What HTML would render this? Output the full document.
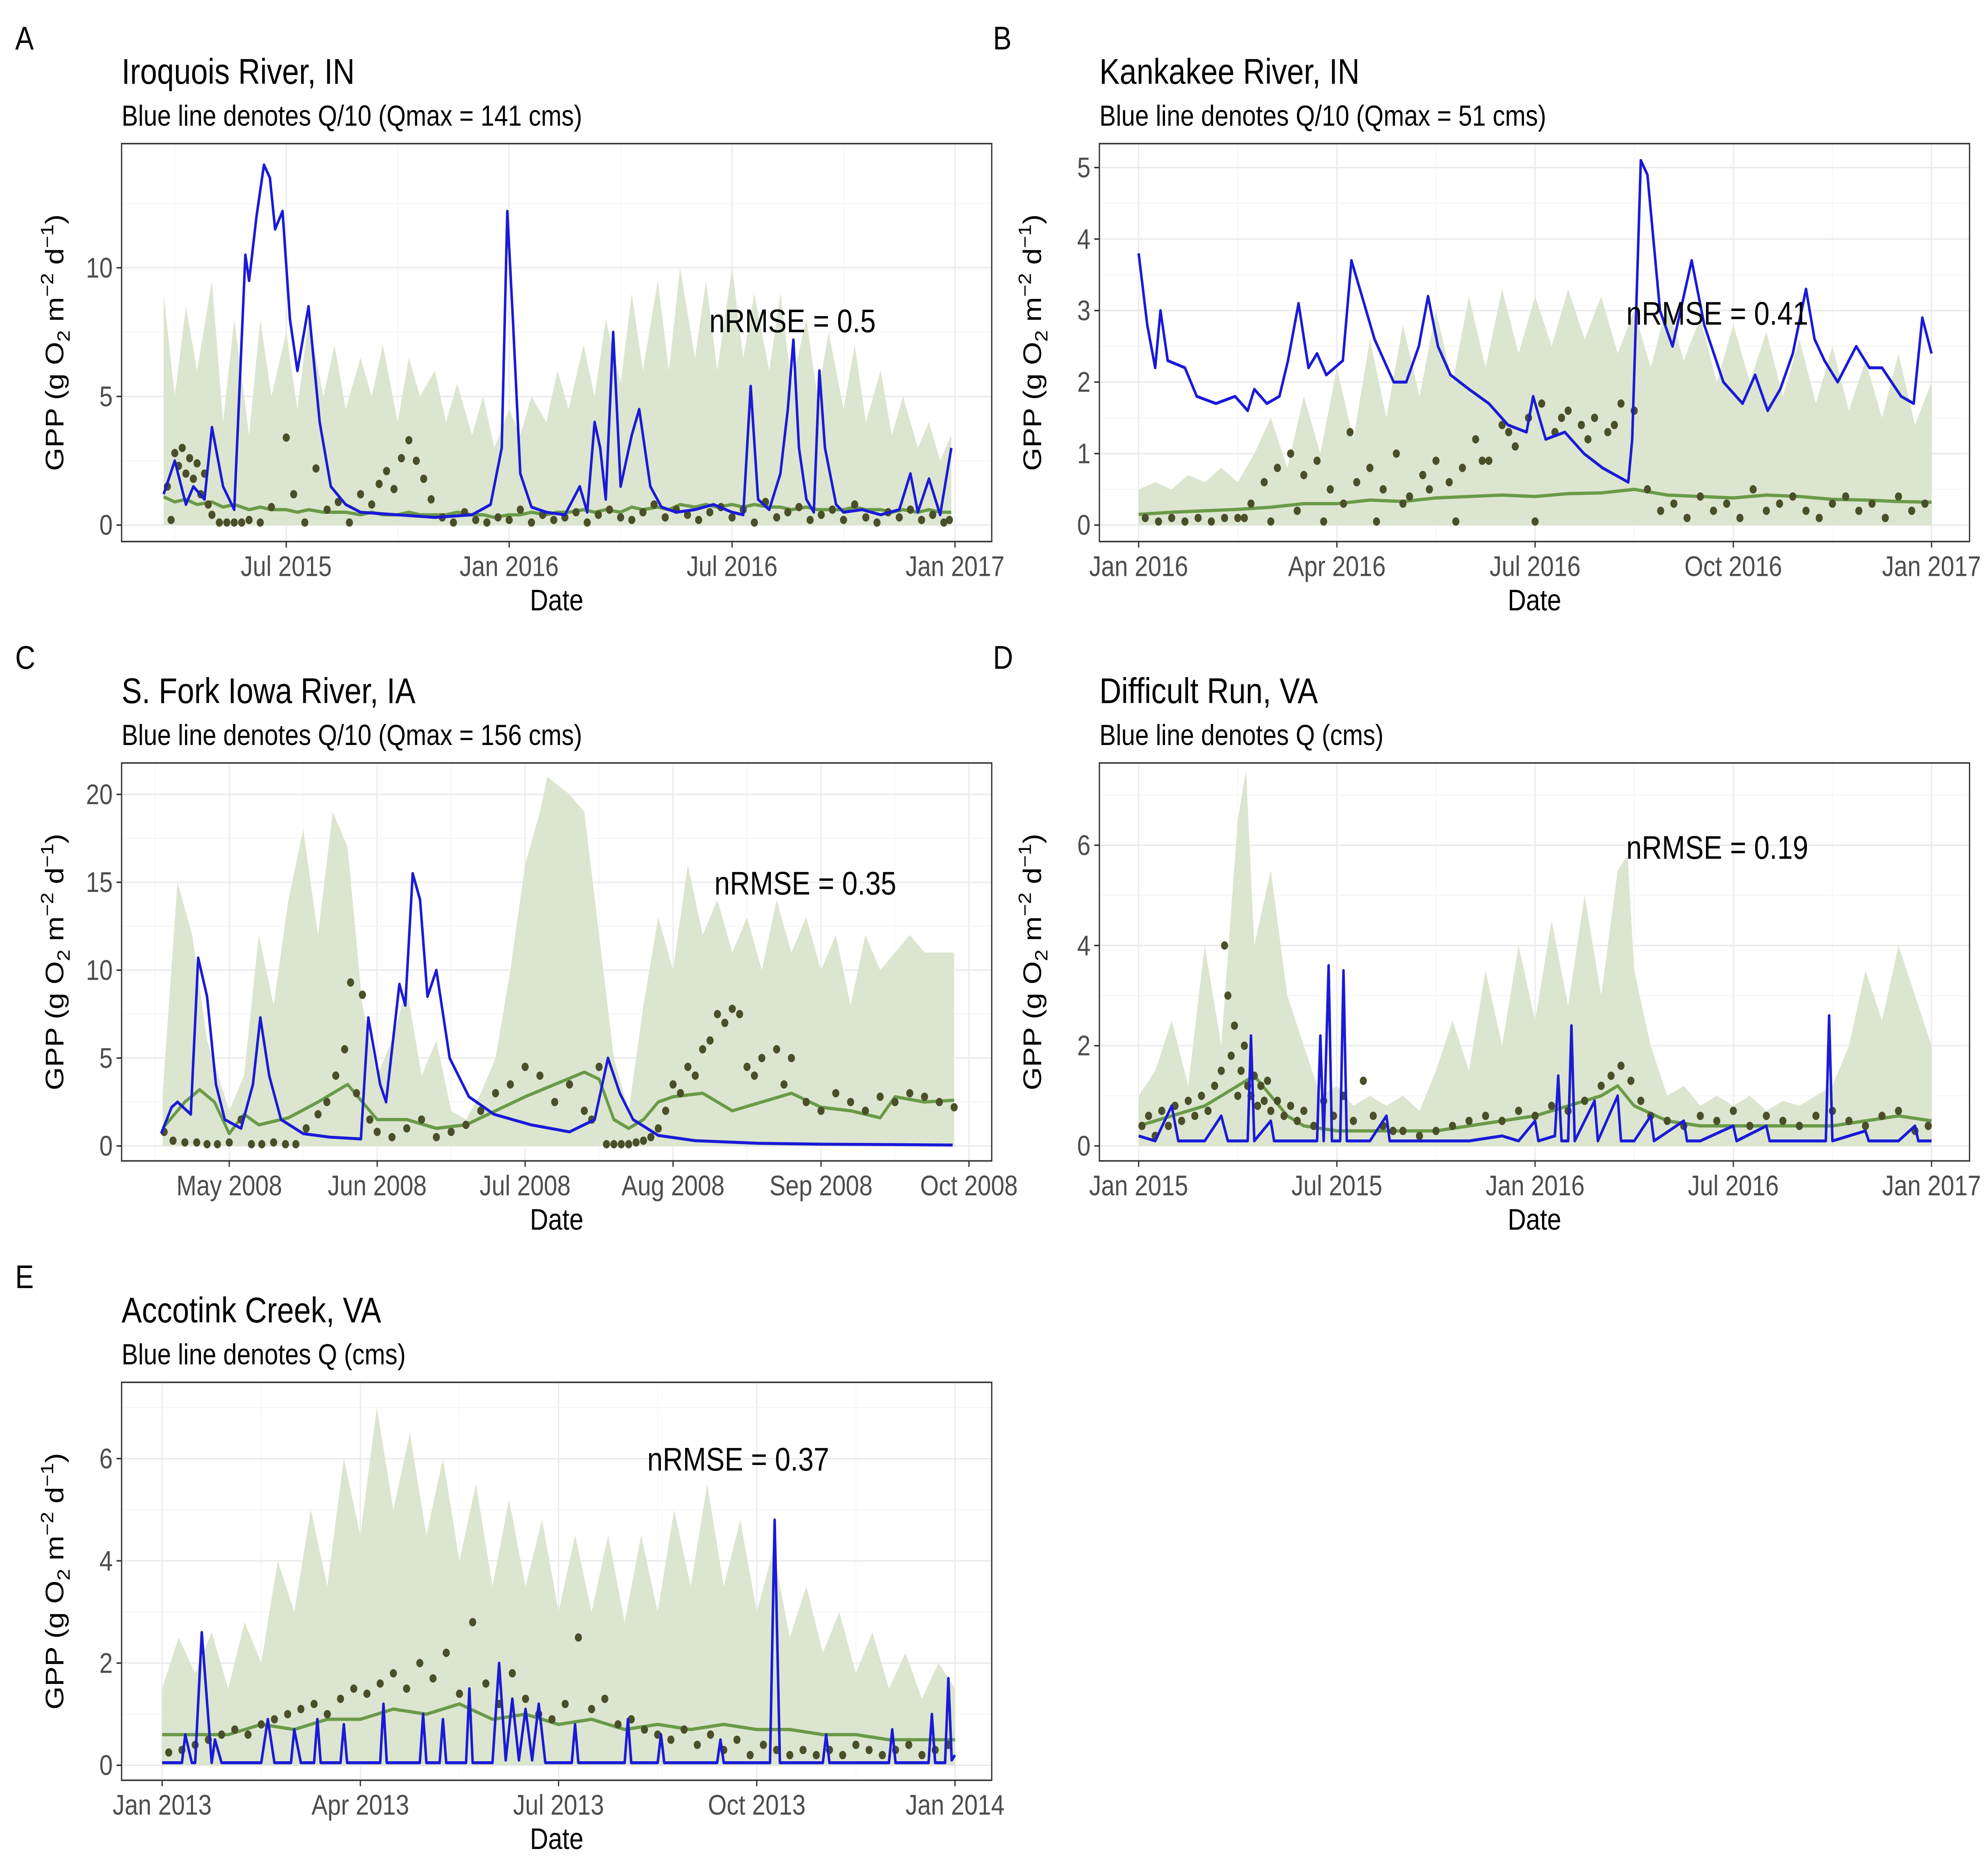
<!DOCTYPE html>
<html><head><meta charset="utf-8"><style>
html,body{margin:0;padding:0;background:#fff;width:100%;height:100%;overflow:hidden}
svg{display:block;width:100vw;height:100vh}
text{font-family:"Liberation Sans",Arial,sans-serif}
</style></head><body>
<svg id="fig" xmlns="http://www.w3.org/2000/svg" viewBox="0 0 1568 1254" preserveAspectRatio="none"></svg>
<script>
// ===== Panel A: months since Jan 2015 =====
const aEnvX=[2.7,3.0,3.3,3.6,4.0,4.3,4.6,5.0,5.3,5.6,6.0,6.3,6.6,7.0,7.3,7.6,8.0,8.3,8.6,9.0,9.3,9.6,10,10.3,10.6,11,11.3,11.6,12,12.3,12.6,13,13.3,13.6,14,14.3,14.6,15,15.3,15.6,16,16.3,16.6,17,17.3,17.6,18,18.3,18.6,19,19.3,19.6,20,20.3,20.6,21,21.3,21.6,22,22.3,22.6,23,23.3,23.6,23.9];
const aEnvY=[9,5,8.5,6,9.5,4,8,3.5,8,5,7.5,4.5,8,5,7,4.5,6.5,5,7,4,6.5,5,6,4,5.5,3.5,5,3,4.5,3.5,5,4,6,4.5,7,5,8,5.5,9,6,9.5,6,10,6.5,9.5,6,10,6.5,9,6,9,5.5,8,5,7.5,4.5,7,4,6,3.5,5,3,4,2.5,3.5];
const aGreenY=[1.1,0.9,1.0,0.8,0.9,0.7,0.8,0.6,0.7,0.6,0.6,0.5,0.6,0.5,0.5,0.5,0.4,0.5,0.4,0.4,0.5,0.4,0.4,0.4,0.5,0.4,0.4,0.3,0.4,0.4,0.5,0.4,0.5,0.5,0.6,0.5,0.6,0.5,0.7,0.6,0.7,0.6,0.8,0.7,0.8,0.7,0.8,0.7,0.8,0.7,0.7,0.6,0.7,0.6,0.6,0.6,0.7,0.6,0.6,0.5,0.6,0.5,0.6,0.5,0.5];
const aBlueX=[2.7,3.0,3.3,3.5,3.8,4.0,4.3,4.6,4.9,5.0,5.2,5.4,5.56,5.7,5.9,6.1,6.3,6.6,6.9,7.2,7.6,8,9,10,11,11.5,11.8,11.95,12.1,12.3,12.6,13,13.5,13.9,14.1,14.3,14.45,14.6,14.8,15,15.3,15.5,15.8,16.1,16.5,17,17.5,18,18.3,18.5,18.7,19,19.3,19.5,19.65,19.8,20,20.2,20.35,20.5,20.8,21,21.5,22,22.5,22.8,23,23.3,23.6,23.9];
const aBlueY=[1.2,2.5,0.8,1.5,1.0,3.8,1.5,0.6,10.5,9.5,12,14,13.5,11.5,12.2,8,6,8.5,4,1.5,0.8,0.5,0.4,0.3,0.4,0.8,3,12.2,8,2,0.7,0.5,0.4,1.5,0.5,4,3,1,7.5,1.5,3.5,4.5,1.5,0.7,0.5,0.6,0.8,0.5,0.4,5.4,1,0.6,2,4.5,7.2,3,1,0.5,6,3,0.8,0.5,0.6,0.4,0.6,2,0.5,1.8,0.4,3];
const aPtX=[2.8,2.9,3.0,3.1,3.2,3.3,3.4,3.5,3.6,3.7,3.8,3.9,4.0,4.2,4.4,4.6,4.8,5.0,5.3,5.6,6.0,6.2,6.5,6.8,7.1,7.4,7.7,8.0,8.3,8.5,8.7,8.9,9.1,9.3,9.5,9.7,9.9,10.2,10.5,10.8,11.1,11.4,11.7,12.0,12.3,12.6,12.9,13.2,13.5,13.8,14.1,14.4,14.7,15.0,15.3,15.6,15.9,16.2,16.5,16.8,17.1,17.4,17.7,18.0,18.3,18.6,18.9,19.2,19.5,19.8,20.1,20.4,20.7,21.0,21.3,21.6,21.9,22.2,22.5,22.8,23.1,23.4,23.7,23.85];
const aPtY=[1.5,0.2,2.8,2.3,3.0,2.0,2.6,1.8,2.4,1.2,2.0,0.8,0.4,0.1,0.1,0.1,0.1,0.2,0.1,0.7,3.4,1.2,0.1,2.2,0.6,0.9,0.1,1.2,0.8,1.6,2.1,1.4,2.6,3.3,2.5,1.8,1.0,0.3,0.1,0.5,0.2,0.1,0.3,0.2,0.6,0.1,0.4,0.2,0.3,0.5,0.1,0.4,0.6,0.3,0.2,0.5,0.8,0.3,0.6,0.4,0.2,0.5,0.7,0.3,0.6,0.1,0.9,0.3,0.5,0.7,0.2,0.4,0.6,0.2,0.8,0.3,0.1,0.5,0.3,0.6,0.2,0.4,0.1,0.2];
const aTickVals=[0,5,10];
const aXTicks=[6,12,18,24];
const aXLabels=["Jul 2015","Jan 2016","Jul 2016","Jan 2017"];

// ===== Panel B: months since Jan 2016 =====
const bEnvX=[0,0.25,0.5,0.75,1,1.25,1.5,1.75,2,2.25,2.5,2.75,3,3.25,3.5,3.75,4,4.25,4.5,4.75,5,5.25,5.5,5.75,6,6.25,6.5,6.75,7,7.25,7.5,7.75,8,8.25,8.5,8.75,9,9.25,9.5,9.75,10,10.25,10.5,10.75,11,11.25,11.5,11.75,12];
const bEnvY=[0.5,0.6,0.5,0.7,0.6,0.8,0.6,1.0,1.5,0.8,1.8,1.0,2.2,1.2,2.6,1.5,2.8,1.8,3.0,2.0,3.2,2.2,3.3,2.4,3.2,2.5,3.3,2.6,3.2,2.4,3.0,2.2,3.1,2.3,2.9,2.0,2.8,2.0,2.7,1.8,2.6,1.7,2.5,1.6,2.3,1.5,2.4,1.4,2.0];
const bGreenX=[0,0.5,1,1.5,2,2.5,3,3.5,4,4.5,5,5.5,6,6.5,7,7.5,8,8.5,9,9.5,10,10.5,11,11.5,12];
const bGreenY=[0.15,0.18,0.2,0.22,0.25,0.3,0.3,0.35,0.33,0.38,0.4,0.42,0.4,0.44,0.45,0.5,0.42,0.4,0.38,0.42,0.4,0.36,0.35,0.33,0.32];
const bBlueX=[0,0.13,0.25,0.33,0.44,0.7,0.88,1.17,1.46,1.65,1.75,1.94,2.13,2.26,2.42,2.57,2.7,2.84,3.09,3.22,3.38,3.57,3.86,4.05,4.24,4.38,4.53,4.72,5.0,5.3,5.59,5.87,5.97,6.16,6.45,6.74,7.02,7.41,7.47,7.6,7.7,7.89,8.08,8.37,8.56,8.85,9.14,9.33,9.52,9.71,9.9,10.1,10.23,10.38,10.58,10.86,11.06,11.25,11.54,11.73,11.86,12.0];
const bBlueY=[3.8,2.8,2.2,3.0,2.3,2.2,1.8,1.7,1.8,1.6,1.9,1.7,1.8,2.3,3.1,2.2,2.4,2.1,2.3,3.7,3.2,2.6,2.0,2.0,2.5,3.2,2.5,2.1,1.9,1.7,1.4,1.3,1.8,1.2,1.3,1.0,0.8,0.6,1.2,5.1,4.9,3.0,2.5,3.7,2.8,2.0,1.7,2.1,1.6,1.9,2.4,3.3,2.6,2.3,2.0,2.5,2.2,2.2,1.8,1.7,2.9,2.4];
const bPtX=[0.1,0.3,0.5,0.7,0.9,1.1,1.3,1.5,1.7,1.9,2.1,2.3,2.5,2.7,2.9,3.1,3.3,3.5,3.7,3.9,4.1,4.3,4.5,4.7,4.9,5.1,5.3,5.5,5.7,5.9,6.1,6.3,6.5,6.7,6.9,7.1,7.3,7.5,7.7,7.9,8.1,8.3,8.5,8.7,8.9,9.1,9.3,9.5,9.7,9.9,10.1,10.3,10.5,10.7,10.9,11.1,11.3,11.5,11.7,11.9,1.6,2.0,2.4,2.8,3.2,3.6,4.0,4.4,4.8,5.2,5.6,6.0,6.4,6.8,7.2];
const bPtY=[0.1,0.05,0.1,0.05,0.1,0.05,0.1,0.1,0.3,0.6,0.8,1.0,0.7,0.9,0.5,0.3,0.6,0.8,0.5,1.0,0.4,0.7,0.9,0.6,0.8,1.2,0.9,1.4,1.1,1.5,1.7,1.3,1.6,1.4,1.5,1.3,1.7,1.6,0.5,0.2,0.3,0.1,0.4,0.2,0.3,0.1,0.5,0.2,0.3,0.4,0.2,0.1,0.3,0.4,0.2,0.3,0.1,0.4,0.2,0.3,0.1,0.05,0.2,0.05,1.3,0.05,0.3,0.5,0.05,0.9,1.3,0.05,1.5,1.2,1.4];
const bTickVals=[0,1,2,3,4,5];
const bXTicks=[0,3,6,9,12];
const bXLabels=["Jan 2016","Apr 2016","Jul 2016","Oct 2016","Jan 2017"];

// ===== Panel C: months since Apr 2008 =====
const cEnvX=[0.55,0.65,0.75,0.85,1.0,1.1,1.2,1.3,1.4,1.5,1.6,1.7,1.8,1.9,2.0,2.1,2.2,2.3,2.4,2.5,2.6,2.7,2.8,2.9,3.0,3.1,3.15,3.3,3.4,3.5,3.6,3.7,3.8,3.9,4.0,4.1,4.2,4.3,4.4,4.5,4.6,4.7,4.8,4.9,5.0,5.1,5.2,5.3,5.4,5.5,5.6,5.7,5.8,5.9];
const cEnvY=[3,15,12,6,2,4,12,8,14,18,12,19,17,8,4,6,9,4,6,2,1.5,3,5,10,16,19,21,20,19,12,5,2,8,13,10,16,12,14,11,13,10,14,11,13,10,12,8,12,10,11,12,11,11,11];
const cGreenX=[0.55,0.7,0.8,0.9,1.0,1.1,1.2,1.4,1.6,1.8,2.0,2.2,2.4,2.6,2.8,3.0,3.2,3.4,3.5,3.6,3.7,3.8,3.9,4.0,4.2,4.4,4.6,4.8,5.0,5.2,5.4,5.5,5.7,5.9];
const cGreenY=[1.0,2.5,3.2,2.5,0.7,1.8,1.2,1.6,2.5,3.5,1.5,1.5,1.0,1.2,2.0,2.8,3.5,4.2,3.8,1.5,1.0,1.5,2.5,2.8,3.0,2.0,2.5,3.0,2.2,2.0,1.6,2.8,2.5,2.6];
const cBlueX=[0.54,0.61,0.65,0.74,0.79,0.85,0.91,0.97,1.08,1.16,1.21,1.27,1.35,1.50,1.68,1.89,1.94,2.02,2.06,2.15,2.19,2.24,2.29,2.34,2.40,2.49,2.62,2.79,3.04,3.30,3.47,3.56,3.64,3.73,3.90,4.15,4.58,5.01,5.44,5.89];
const cBlueY=[0.7,2.2,2.5,1.8,10.7,8.5,3.5,1.5,1.0,3.5,7.3,4,1.5,0.7,0.5,0.4,7.3,3.5,2.5,9.2,8,15.5,14,8.5,10,5,2.8,1.8,1.2,0.8,1.5,5.0,3,1.5,0.6,0.3,0.15,0.1,0.08,0.05];
const cPtX=[0.56,0.62,0.7,0.78,0.85,0.92,1.0,1.08,1.15,1.22,1.3,1.38,1.45,1.52,1.6,1.66,1.72,1.78,1.82,1.86,1.9,1.95,2.0,2.1,2.2,2.3,2.4,2.5,2.6,2.7,2.8,2.9,3.0,3.1,3.2,3.3,3.4,3.45,3.5,3.55,3.6,3.65,3.7,3.75,3.8,3.85,3.9,3.95,4.0,4.05,4.1,4.15,4.2,4.25,4.3,4.35,4.4,4.45,4.5,4.55,4.6,4.7,4.75,4.8,4.9,5.0,5.1,5.2,5.3,5.4,5.5,5.6,5.7,5.8,5.9];
const cPtY=[0.8,0.3,0.2,0.2,0.1,0.1,0.2,1.5,0.1,0.1,0.2,0.1,0.1,1.0,1.8,2.5,4.0,5.5,9.3,3.0,8.6,1.5,0.8,0.5,1.0,1.5,0.5,0.8,1.2,2.0,3.0,3.5,4.5,4.0,2.5,3.5,2.0,1.5,4.5,0.1,0.1,0.1,0.1,0.2,0.3,0.5,1.0,2.0,3.5,3.0,4.5,4.0,5.5,6.0,7.5,7.0,7.8,7.5,4.5,4.0,5.0,5.5,3.5,5.0,2.5,2.0,3.0,2.5,2.0,2.8,2.5,3.0,2.8,2.5,2.2];
const cTickVals=[0,5,10,15,20];
const cXTicks=[1,2,3,4,5,6];
const cXLabels=["May 2008","Jun 2008","Jul 2008","Aug 2008","Sep 2008","Oct 2008"];

// ===== Panel D: months since Jan 2015 =====
const dEnvX=[0,0.5,1,1.5,2,2.5,3,3.25,3.5,4,4.5,5,5.5,6,6.5,7,7.5,8,8.5,9,9.5,10,10.5,11,11.5,12,12.5,13,13.5,14,14.5,14.8,15,15.5,16,16.5,17,17.5,18,18.5,19,19.5,20,20.5,21,21.5,22,22.5,23,23.5,24];
const dEnvY=[1.0,1.5,2.5,1.2,4.0,2.0,6.5,7.5,4,5.5,3,2,1,1.2,0.8,1.0,0.8,1.0,0.7,1.5,2.5,1.5,3.5,2.0,4,2.5,4.5,2.8,5.0,3,5.5,5.8,3.5,2,1,1.2,0.8,1,0.8,1.0,0.7,0.9,0.8,1,1.2,2,3.5,2.5,4,3,2];
const dGreenX=[0,1,2,3,3.5,4,4.5,5,6,7,8,9,10,11,12,13,14,14.5,15,16,17,18,19,20,21,22,23,24];
const dGreenY=[0.4,0.6,0.8,1.2,1.4,1.0,0.6,0.4,0.3,0.3,0.3,0.3,0.4,0.5,0.6,0.8,1.0,1.2,0.8,0.5,0.4,0.4,0.4,0.4,0.4,0.5,0.6,0.5];
const dBlueX=[0,0.5,1,1.2,2,2.5,2.7,3.3,3.4,3.5,4,4.1,5,5.4,5.5,5.6,5.75,5.85,6.1,6.2,6.3,7,7.5,7.6,9,10,11,11.5,12,12.1,12.6,12.7,12.8,13.0,13.1,13.2,13.8,13.9,14.5,14.6,15,15.5,15.6,16.5,16.6,17,18,18.1,19,19.1,20.8,20.9,21.0,22,22.1,23,23.5,23.6,24];
const dBlueY=[0.2,0.1,0.8,0.1,0.1,0.6,0.1,0.1,2.2,0.1,0.5,0.1,0.1,0.1,2.2,0.1,3.6,0.1,0.1,3.5,0.1,0.1,0.6,0.1,0.1,0.1,0.2,0.1,0.5,0.1,0.2,1.4,0.1,0.1,2.4,0.1,0.9,0.1,1.0,0.1,0.1,0.6,0.1,0.5,0.1,0.1,0.4,0.1,0.4,0.1,0.1,2.6,0.1,0.3,0.1,0.1,0.4,0.1,0.1];
const dPtX=[0.1,0.3,0.5,0.7,0.9,1.1,1.3,1.5,1.7,1.9,2.1,2.3,2.5,2.6,2.7,2.8,2.9,3.0,3.1,3.2,3.3,3.4,3.5,3.6,3.7,3.8,3.9,4.0,4.2,4.4,4.6,4.8,5.0,5.3,5.6,5.9,6.2,6.5,6.8,7.1,7.4,7.7,8.0,8.5,9.0,9.5,10,10.5,11,11.5,12,12.5,13,13.5,14,14.3,14.6,14.9,15.2,15.5,16,16.5,17,17.5,18,18.5,19,19.5,20,20.5,21,21.5,22,22.5,23,23.5,23.9];
const dPtY=[0.4,0.6,0.2,0.7,0.4,0.8,0.5,0.9,0.6,1.0,0.7,1.2,1.5,4.0,3.0,1.8,2.4,1.0,1.5,2.0,1.2,1.0,1.4,0.8,1.2,0.9,1.3,0.7,0.9,0.6,0.8,0.5,0.7,0.4,0.9,0.6,1.0,0.5,1.3,0.6,0.4,0.3,0.3,0.2,0.3,0.4,0.5,0.6,0.5,0.7,0.6,0.8,0.7,0.9,1.2,1.4,1.6,1.3,0.9,0.6,0.5,0.4,0.6,0.5,0.7,0.4,0.6,0.5,0.4,0.6,0.7,0.5,0.4,0.6,0.7,0.3,0.4];
const dTickVals=[0,2,4,6];
const dXTicks=[0,6,12,18,24];
const dXLabels=["Jan 2015","Jul 2015","Jan 2016","Jul 2016","Jan 2017"];

// ===== Panel E: months since Jan 2013 =====
const eEnvX=[0,0.25,0.5,0.75,1,1.25,1.5,1.75,2,2.25,2.5,2.75,3,3.25,3.5,3.75,4,4.25,4.5,4.75,5,5.25,5.5,5.75,6,6.25,6.5,6.75,7,7.25,7.5,7.75,8,8.25,8.5,8.75,9,9.25,9.5,9.75,10,10.25,10.5,10.75,11,11.25,11.5,11.75,12];
const eEnvY=[1.5,2.5,1.8,2.6,1.5,2.8,2.0,4.0,3.0,5.0,3.5,6.0,4.5,7.0,5,6.5,4.5,6.0,4.0,5.5,3.5,5.2,3.5,4.8,3.0,4.5,3.0,4.5,2.8,4.5,3.0,5.0,3.5,5.5,3.5,4.8,3.0,4.2,2.5,3.5,2.2,3.0,1.8,2.6,1.5,2.2,1.3,2.0,1.5];
const eGreenX=[0,1,1.5,2,2.5,3,3.5,4,4.5,5,5.5,6,6.5,7,7.5,8,8.5,9,9.5,10,10.5,11,11.5,12];
const eGreenY=[0.6,0.6,0.8,0.7,0.9,0.9,1.1,1.0,1.2,0.9,1.0,0.8,0.9,0.7,0.8,0.7,0.8,0.7,0.7,0.6,0.6,0.5,0.5,0.5];
const eBlueX=[0,0.3,0.35,0.45,0.5,0.6,0.75,0.8,0.9,1.5,1.6,1.7,1.95,2.0,2.1,2.3,2.35,2.4,2.7,2.75,2.8,3.3,3.35,3.4,3.9,3.95,4.0,4.2,4.25,4.3,4.6,4.65,4.7,5.0,5.1,5.2,5.3,5.4,5.5,5.6,5.7,5.8,6.2,6.25,6.3,7.0,7.05,7.1,7.5,7.55,7.6,8.4,8.45,8.5,9.2,9.27,9.35,10.0,10.05,10.1,11.0,11.05,11.1,11.6,11.65,11.7,11.85,11.9,11.95,12.0];
const eBlueY=[0.05,0.05,0.6,0.05,0.05,2.6,0.05,0.5,0.05,0.05,0.9,0.05,0.05,0.7,0.05,0.05,0.9,0.05,0.05,0.8,0.05,0.05,1.2,0.05,0.05,1.0,0.05,0.05,0.9,0.05,0.05,1.5,0.05,0.05,2.0,0.1,1.3,0.1,1.1,0.1,1.2,0.05,0.05,0.8,0.05,0.05,0.9,0.05,0.05,0.6,0.05,0.05,0.5,0.05,0.05,4.8,0.05,0.05,0.6,0.05,0.05,0.7,0.05,0.05,1.0,0.05,0.05,1.7,0.1,0.2];
const ePtX=[0.1,0.3,0.5,0.7,0.9,1.1,1.3,1.5,1.7,1.9,2.1,2.3,2.5,2.7,2.9,3.1,3.3,3.5,3.7,3.9,4.1,4.3,4.5,4.7,4.9,5.1,5.3,5.5,5.7,5.9,6.1,6.3,6.5,6.7,6.9,7.1,7.3,7.5,7.7,7.9,8.1,8.3,8.5,8.7,8.9,9.1,9.3,9.5,9.7,9.9,10.1,10.3,10.5,10.7,10.9,11.1,11.3,11.5,11.7,11.9];
const ePtY=[0.25,0.3,0.4,0.5,0.6,0.7,0.6,0.8,0.9,1.0,1.1,1.2,1.0,1.3,1.5,1.4,1.6,1.8,1.5,2.0,1.7,2.2,1.4,2.8,1.6,1.2,1.8,1.3,1.0,0.9,1.2,2.5,1.1,1.3,0.8,0.9,0.7,0.6,0.5,0.7,0.4,0.6,0.3,0.5,0.2,0.4,0.3,0.2,0.3,0.2,0.3,0.2,0.4,0.3,0.2,0.3,0.4,0.2,0.3,0.4];
const eTickVals=[0,2,4,6];
const eXTicks=[0,3,6,9,12];
const eXLabels=["Jan 2013","Apr 2013","Jul 2013","Oct 2013","Jan 2014"];

const NS="http://www.w3.org/2000/svg";
const svg=document.getElementById('fig');
function mk(tag,attrs,parent){const e=document.createElementNS(NS,tag);for(const k in attrs)e.setAttribute(k,attrs[k]);(parent||svg).appendChild(e);return e;}

const panels=[
 {key:'a',letter:'A',title:'Iroquois River, IN',sub:'Blue line denotes Q/10 (Qmax = 141 cms)',L:96,R:783,T:96,B:362,
  xm0:6,xp0:226,xm1:24,xp1:754,yv0:0,yp0:351,yv1:10,yp1:179,
  envX:aEnvX,envY:aEnvY,gX:aEnvX,gY:aGreenY,blX:aBlueX,blY:aBlueY,pX:aPtX,pY:aPtY,yt:aTickVals,xt:aXTicks,xl:aXLabels,nr:'nRMSE =  0.5',nx:560,ny:222},
 {key:'b',letter:'B',title:'Kankakee River, IN',sub:'Blue line denotes Q/10 (Qmax = 51 cms)',L:868,R:1555,T:96,B:362,
  xm0:0,xp0:899,xm1:12,xp1:1525,yv0:0,yp0:351,yv1:5,yp1:112,
  envX:bEnvX,envY:bEnvY,gX:bGreenX,gY:bGreenY,blX:bBlueX,blY:bBlueY,pX:bPtX,pY:bPtY,yt:bTickVals,xt:bXTicks,xl:bXLabels,nr:'nRMSE =  0.41',nx:1284,ny:217},
 {key:'c',letter:'C',title:'S. Fork Iowa River, IA',sub:'Blue line denotes Q/10 (Qmax = 156 cms)',L:96,R:783,T:510,B:776,
  xm0:1,xp0:181,xm1:6,xp1:765,yv0:0,yp0:766,yv1:20,yp1:531,
  envX:cEnvX,envY:cEnvY,gX:cGreenX,gY:cGreenY,blX:cBlueX,blY:cBlueY,pX:cPtX,pY:cPtY,yt:cTickVals,xt:cXTicks,xl:cXLabels,nr:'nRMSE =  0.35',nx:564,ny:598},
 {key:'d',letter:'D',title:'Difficult Run, VA',sub:'Blue line denotes Q (cms)',L:868,R:1555,T:510,B:776,
  xm0:0,xp0:899,xm1:24,xp1:1525,yv0:0,yp0:766,yv1:6,yp1:565,
  envX:dEnvX,envY:dEnvY,gX:dGreenX,gY:dGreenY,blX:dBlueX,blY:dBlueY,pX:dPtX,pY:dPtY,yt:dTickVals,xt:dXTicks,xl:dXLabels,nr:'nRMSE =  0.19',nx:1284,ny:574},
 {key:'e',letter:'E',title:'Accotink Creek, VA',sub:'Blue line denotes Q (cms)',L:96,R:783,T:924,B:1190,
  xm0:0,xp0:128,xm1:12,xp1:754,yv0:0,yp0:1180,yv1:6,yp1:975,
  envX:eEnvX,envY:eEnvY,gX:eGreenX,gY:eGreenY,blX:eBlueX,blY:eBlueY,pX:ePtX,pY:ePtY,yt:eTickVals,xt:eXTicks,xl:eXLabels,nr:'nRMSE =  0.37',nx:511,ny:983}
];

panels.forEach(p=>{
 const xs=m=>p.xp0+(m-p.xm0)*(p.xp1-p.xp0)/(p.xm1-p.xm0);
 const ys=v=>p.yp0+(v-p.yv0)*(p.yp1-p.yp0)/(p.yv1-p.yv0);
 const g=mk('g',{});
 
 
 const clipId='clip-'+p.key;
 const cp=mk('clipPath',{id:clipId},g);
 mk('rect',{x:p.L,y:p.T,width:p.R-p.L,height:p.B-p.T},cp);
 const bg=mk('rect',{x:p.L,y:p.T,width:p.R-p.L,height:p.B-p.T,fill:'#fff'},g);
 
 
 const grid=mk('g',{'clip-path':'url(#'+clipId+')'},g);
 
 
 const xstep=p.xt[1]-p.xt[0];
 for(let m=p.xt[0]-xstep*3;m<=p.xt[p.xt.length-1]+xstep;m+=xstep/2){
   const major=Math.abs(((m-p.xt[0])/xstep)-Math.round((m-p.xt[0])/xstep))<1e-6;
   mk('line',{x1:xs(m),x2:xs(m),y1:p.T,y2:p.B,stroke:major?'#ebebeb':'#f5f5f5','stroke-width':major?1:0.6},grid);
 }
 const ystep=p.yt[1]-p.yt[0];
 for(let v=p.yt[0]-ystep;v<=p.yt[p.yt.length-1]+ystep*2;v+=ystep/2){
   const major=Math.abs(((v-p.yt[0])/ystep)-Math.round((v-p.yt[0])/ystep))<1e-6;
   mk('line',{x1:p.L,x2:p.R,y1:ys(v),y2:ys(v),stroke:major?'#ebebeb':'#f5f5f5','stroke-width':major?1:0.6},grid);
 }
 const data=mk('g',{'clip-path':'url(#'+clipId+')'},g);
 const n=Math.min(p.envX.length,p.envY.length);
 let d='M'+xs(p.envX[0])+','+ys(0);
 for(let i=0;i<n;i++) d+=' L'+xs(p.envX[i]).toFixed(2)+','+ys(p.envY[i]).toFixed(2);
 d+=' L'+xs(p.envX[n-1])+','+ys(0)+' Z';
 const env=mk('path',{d:d,fill:'#dce5cf',stroke:'none'},data);
 
 
 const ng=Math.min(p.gX.length,p.gY.length);
 let gd='';
 for(let i=0;i<ng;i++) gd+=(i?' L':'M')+xs(p.gX[i]).toFixed(2)+','+ys(p.gY[i]).toFixed(2);
 const gl=mk('path',{d:gd,fill:'none',stroke:'#6a9a48','stroke-width':2.2,'stroke-linejoin':'round'},data);
 
 
 const pg=mk('g',{},data);
 
 
 const np=Math.min(p.pX.length,p.pY.length);
 for(let i=0;i<np;i++){
   const c=mk('circle',{cx:xs(p.pX[i]).toFixed(2),cy:ys(p.pY[i]).toFixed(2),r:2.8,fill:'#4a4f2a'},pg);
   
   
 }
 const nb=Math.min(p.blX.length,p.blY.length);
 let bd='';
 for(let i=0;i<nb;i++) bd+=(i?' L':'M')+xs(p.blX[i]).toFixed(2)+','+ys(p.blY[i]).toFixed(2);
 const bl=mk('path',{d:bd,fill:'none',stroke:'#1a1ad8','stroke-width':2,'stroke-linejoin':'round'},data);
 
 
 const br=mk('rect',{x:p.L,y:p.T,width:p.R-p.L,height:p.B-p.T,fill:'none',stroke:'#333','stroke-width':1},g);
 
 
 p.yt.forEach(v=>{
   mk('line',{x1:p.L-4,x2:p.L,y1:ys(v),y2:ys(v),stroke:'#333','stroke-width':1},g);
   const t=mk('text',{x:p.L-7,y:ys(v)+6.5,'text-anchor':'end','font-size':19,fill:'#4d4d4d'},g);
   t.textContent=String(v);
   
   
 });
 p.xt.forEach((m,i)=>{
   mk('line',{x1:xs(m),x2:xs(m),y1:p.B,y2:p.B+4,stroke:'#333','stroke-width':1},g);
   const t=mk('text',{x:xs(m),y:p.B+23,'text-anchor':'middle','font-size':19,fill:'#4d4d4d'},g);
   t.textContent=p.xl[i];
   
   
 });
 const xt=mk('text',{x:(p.L+p.R)/2,y:p.B+46,'text-anchor':'middle','font-size':20,fill:'#000'},g);
 xt.textContent='Date';
 
 
 const yx=p.L-46, yy=(p.T+p.B)/2;
 const yt=mk('text',{x:0,y:0,'text-anchor':'middle','font-size':20,fill:'#000',transform:'translate('+yx+','+yy+') rotate(-90)'},g);
 
 
 yt.innerHTML='GPP (g  O<tspan font-size="14" dy="5">2</tspan><tspan dy="-5"> m</tspan><tspan font-size="14" dy="-8">−2</tspan><tspan dy="8"> d</tspan><tspan font-size="14" dy="-8">−1</tspan><tspan dy="8">)</tspan>';
 const tt=mk('text',{x:p.L,y:p.T-40,'font-size':24,fill:'#000'},g);
 tt.textContent=p.title;
 
 
 const st=mk('text',{x:p.L,y:p.T-12,'font-size':19.5,fill:'#000'},g);
 st.textContent=p.sub;
 
 
 const lt=mk('text',{x:p.L-84,y:p.T-63,'font-size':22,fill:'#000'},g);
 lt.textContent=p.letter;
 
 
 const nr=mk('text',{x:p.nx,y:p.ny,'font-size':22,fill:'#000'},g);
 nr.textContent=p.nr;
 
 
});
</script>
</body></html>
